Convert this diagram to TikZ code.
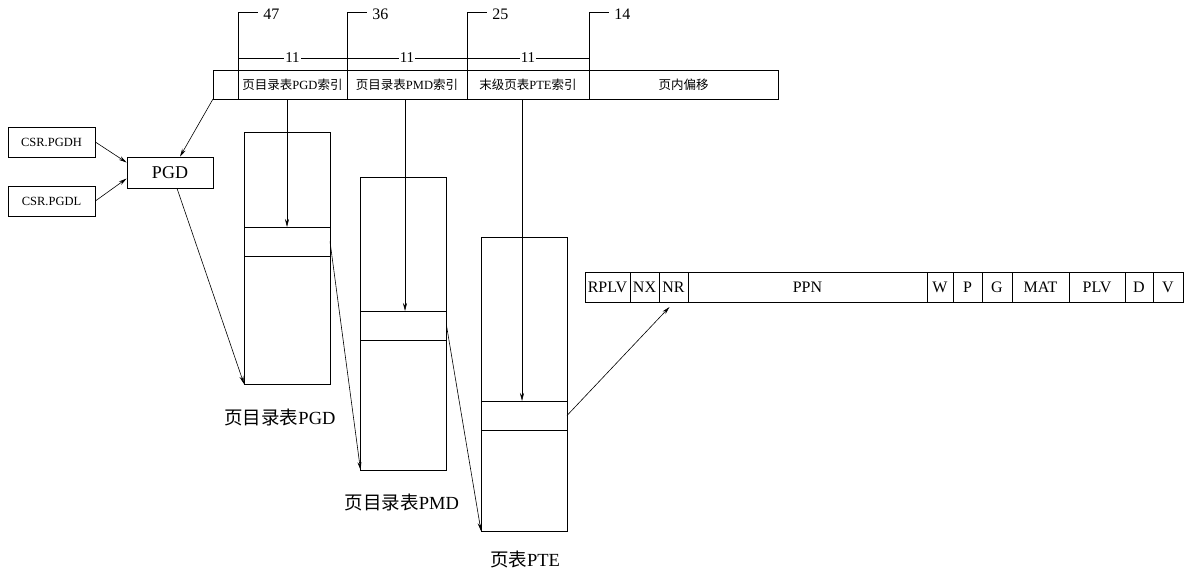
\documentclass[tikz,border=0pt]{standalone}
\usepackage{fontspec}
\setmainfont{Liberation Serif}
\newfontfamily\cjk{Noto Sans CJK SC}
\usetikzlibrary{arrows.meta,positioning,calc}

\newcommand{\cn}[1]{{\cjk #1}}
\newcommand{\fs}[1]{\fontsize{#1}{#1}\selectfont}

\tikzset{
  cell/.style={draw, inner sep=0pt, outer sep=0pt, minimum height=29pt, font=\fs{12.5}},
  fld/.style={draw, inner sep=0pt, outer sep=0pt, minimum height=30pt, font=\fs{16}},
  tbl/.style={draw, inner sep=0pt, outer sep=0pt, minimum width=86pt},
  ptr/.style={-{Stealth[length=8pt,width=4pt]}, line width=0.6pt},
  lbl/.style={font=\fs{18.5}},
  num/.style={font=\fs{16}, anchor=west, inner sep=0pt, xshift=5pt, yshift=-2pt},
  cnt/.style={font=\fs{15}, fill=white, inner sep=1pt}
}

\begin{document}
\begin{tikzpicture}[x=1pt, y=-1pt, line width=0.7pt]
    \useasboundingbox (0,0) rectangle (1186,571);

    % Virtual address fields
    \node[cell, minimum width=25pt] (lead) at (225.5,84.5) {};
    \node[cell, minimum width=109pt, right=0pt of lead] (pgdidx) {\cn{页目录表}PGD\cn{索引}};
    \node[cell, minimum width=120pt, right=0pt of pgdidx] (pmdidx) {\cn{页目录表}PMD\cn{索引}};
    \node[cell, minimum width=122pt, right=0pt of pmdidx] (pteidx) {\cn{末级页表}PTE\cn{索引}};
    \node[cell, minimum width=189pt, right=0pt of pteidx] (offset) {\cn{页内偏移}};

    % Bit positions
    \draw (pgdidx.north west) -- ++(0,-58) -- ++(20,0) node[num] {47};
    \draw (pmdidx.north west) -- ++(0,-58) -- ++(20,0) node[num] {36};
    \draw (pteidx.north west) -- ++(0,-58) -- ++(20,0) node[num] {25};
    \draw (offset.north west) -- ++(0,-58) -- ++(20,0) node[num] {14};

    % Field widths
    \draw ($(pgdidx.north west)+(0,-12)$) -- node[cnt] {11} ($(pgdidx.north east)+(0,-12)$);
    \draw ($(pmdidx.north west)+(0,-12)$) -- node[cnt] {11} ($(pmdidx.north east)+(0,-12)$);
    \draw ($(pteidx.north west)+(0,-12)$) -- node[cnt] {11} ($(pteidx.north east)+(0,-12)$);

    % Base registers
    \node[draw, minimum width=87pt, minimum height=30pt, inner sep=0pt, font=\fs{12.5}] (pgdh) at (51.5,142) {CSR.PGDH};
    \node[draw, minimum width=87pt, minimum height=30pt, inner sep=0pt, font=\fs{12.5}] (pgdl) at (51.5,201) {CSR.PGDL};
    \node[draw, minimum width=86pt, minimum height=31pt, inner sep=0pt, font=\fs{18}] (pgd) at (170,172.5) {PGD};

    % Tables and their entries
    \node[tbl, minimum height=252pt] (pgdt) at (287,258) {};
    \node[tbl, minimum height=29pt] (pgde) at (287,241.5) {};
    \node[tbl, minimum height=293pt] (pmdt) at (403.5,323.5) {};
    \node[tbl, minimum height=29pt] (pmde) at (403.5,325.5) {};
    \node[tbl, minimum height=294pt] (ptet) at (524,384) {};
    \node[tbl, minimum height=29pt] (ptee) at (524,415.5) {};

    \node[lbl] (pgdlbl) at (280,417) {\cn{页目录表}PGD};
    \node[lbl] (pmdlbl) at (402,502) {\cn{页目录表}PMD};
    \node[lbl] (ptelbl) at (525,559) {\cn{页表}PTE};

    % Page table entry fields
    \node[fld, minimum width=45pt] (rplv) at (607.5,287) {RPLV};
    \node[fld, minimum width=29pt, right=0pt of rplv] (nx) {NX};
    \node[fld, minimum width=29pt, right=0pt of nx] (nr) {NR};
    \node[fld, minimum width=239pt, right=0pt of nr] (ppn) {PPN};
    \node[fld, minimum width=26pt, right=0pt of ppn] (w) {W};
    \node[fld, minimum width=29pt, right=0pt of w] (p) {P};
    \node[fld, minimum width=30pt, right=0pt of p] (g) {G};
    \node[fld, minimum width=57pt, right=0pt of g] (mat) {MAT};
    \node[fld, minimum width=56pt, right=0pt of mat] (plv) {PLV};
    \node[fld, minimum width=28pt, right=0pt of plv] (d) {D};
    \node[fld, minimum width=30pt, right=0pt of d] (v) {V};

    % Walk
    \draw[ptr] (pgdh.east) -- ($(pgd.west)+(0,-10)$);
    \draw[ptr] (pgdl.east) -- ($(pgd.west)+(0,6)$);
    \draw[ptr] (lead.south west) -- ($(pgd.north)+(10,0)$);
    \draw[ptr] ($(pgd.south)+(7,0)$) -- (pgdt.south west);
    \draw[ptr] (pgde.north |- pgdidx.south) -- (pgde.north);
    \draw[ptr] (pgde.east) -- (pmdt.south west);
    \draw[ptr] ($(pmde.north |- pmdidx.south)+(1.5,0)$) -- ($(pmde.north)+(1.5,0)$);
    \draw[ptr] (pmde.east) -- (ptet.south west);
    \draw[ptr] ($(ptee.north |- pteidx.south)+(-2,0)$) -- ($(ptee.north)+(-2,0)$);
    \draw[ptr] (ptee.east) -- ($(nr.south)+(-4,5)$);
\end{tikzpicture}
\end{document}
